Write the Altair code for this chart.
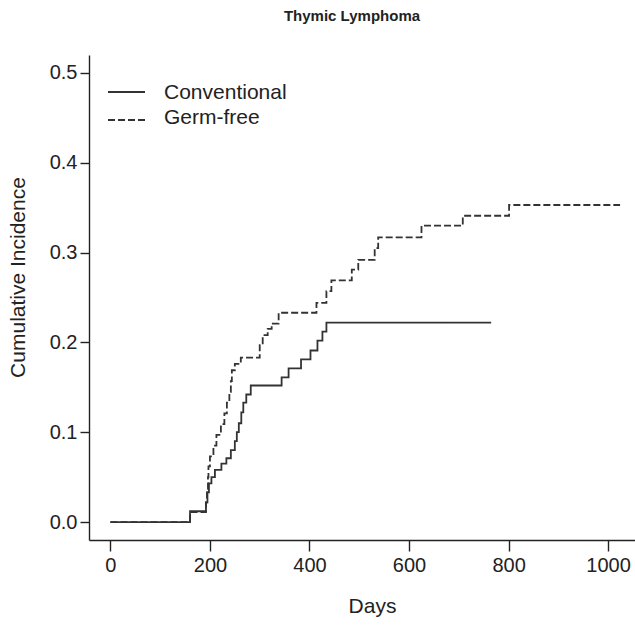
import altair as alt
import pandas as pd

series = ["Conventional", "Germ-free"]

conv_days = [0, 160, 192, 195, 198, 203, 210, 223, 233, 242, 250, 254, 258, 263, 267, 273, 282,
             344, 358, 383, 402, 416, 426, 434, 765]
conv_vals = [0, 0.012, 0.022, 0.033, 0.043, 0.050, 0.058, 0.065, 0.071, 0.080, 0.090, 0.100,
             0.110, 0.122, 0.133, 0.142, 0.152, 0.161, 0.171, 0.181, 0.191, 0.202, 0.212, 0.222, 0.222]

gf_days = [0, 160, 192, 194, 196, 197, 200, 207, 213, 222, 229, 234, 239, 242, 244, 250, 262,
           300, 306, 316, 324, 338, 414, 434, 444, 485, 498, 531, 538, 625, 708, 801, 1024]
gf_vals = [0, 0.011, 0.022, 0.037, 0.050, 0.062, 0.073, 0.085, 0.097, 0.109, 0.121, 0.133,
           0.145, 0.157, 0.169, 0.176, 0.183, 0.197, 0.208, 0.215, 0.221, 0.233, 0.244, 0.257,
           0.269, 0.281, 0.292, 0.305, 0.317, 0.330, 0.341, 0.353, 0.353]

x_ticks = [0, 200, 400, 600, 800, 1000]
y_ticks = [0.0, 0.1, 0.2, 0.3, 0.4, 0.5]

df = pd.concat([
    pd.DataFrame({"group": series[0], "day": conv_days, "value": conv_vals}),
    pd.DataFrame({"group": series[1], "day": gf_days, "value": gf_vals}),
])

FONT = "Liberation Sans"
INK = "#222222"
LINE = "#333333"
dashes = [[1, 0], [7, 3]]

x = alt.X("day:Q",
          scale=alt.Scale(domain=[-43, 1054], nice=False, zero=False),
          axis=alt.Axis(values=x_ticks, format="d", title="Days", tickSize=11,
                        labelPadding=4, titleX=283, titleY=72,
                        titleBaseline="alphabetic", titleAlign="center"))
y = alt.Y("value:Q",
          scale=alt.Scale(domain=[-0.02, 0.52], nice=False, zero=False),
          axis=alt.Axis(values=y_ticks, format=".1f", title="Cumulative Incidence",
                        tickSize=9, labelPadding=3, titleX=-71, titleY=222,
                        titleBaseline="middle", titleAlign="center", titleAngle=-90))

lines = alt.Chart(df).mark_line(interpolate="step-after", color=LINE, strokeWidth=1.8,
                                clip=True).encode(
    x=x, y=y,
    strokeDash=alt.StrokeDash("group:N", scale=alt.Scale(domain=series, range=dashes),
                              legend=None),
    detail="group:N",
)

layers = [lines]
rule_y = [37, 65]
text_y = [38, 63]
for i, name in enumerate(series):
    ldf = pd.DataFrame({"label": [name]})
    layers.append(alt.Chart(ldf).mark_rule(color=LINE, strokeWidth=1.8, strokeDash=dashes[i]).encode(
        x=alt.value(19), x2=alt.value(56), y=alt.value(rule_y[i])))
    layers.append(alt.Chart(ldf).mark_text(align="left", baseline="middle", font=FONT,
                                           fontSize=21, color=INK).encode(
        x=alt.value(75), y=alt.value(text_y[i]), text="label:N"))

chart = alt.layer(*layers).properties(
    width=546, height=485,
    autosize="none",
    padding={"left": 89, "top": 55, "right": 0, "bottom": 85},
    title=alt.TitleParams("Thymic Lymphoma", font=FONT, fontSize=15, fontWeight="bold",
                          color=INK, anchor="middle", frame="group", dx=-10, offset=31),
).configure_view(strokeWidth=0).configure_axis(
    grid=False, labelFont=FONT, titleFont=FONT, labelFontSize=20, titleFontSize=21,
    titleFontWeight="normal", labelColor=INK, titleColor=INK, domainColor=INK,
    tickColor=INK, domainWidth=1.4, tickWidth=1.4,
)

chart.save("out.html", embed_options={"renderer": "svg", "actions": False})
